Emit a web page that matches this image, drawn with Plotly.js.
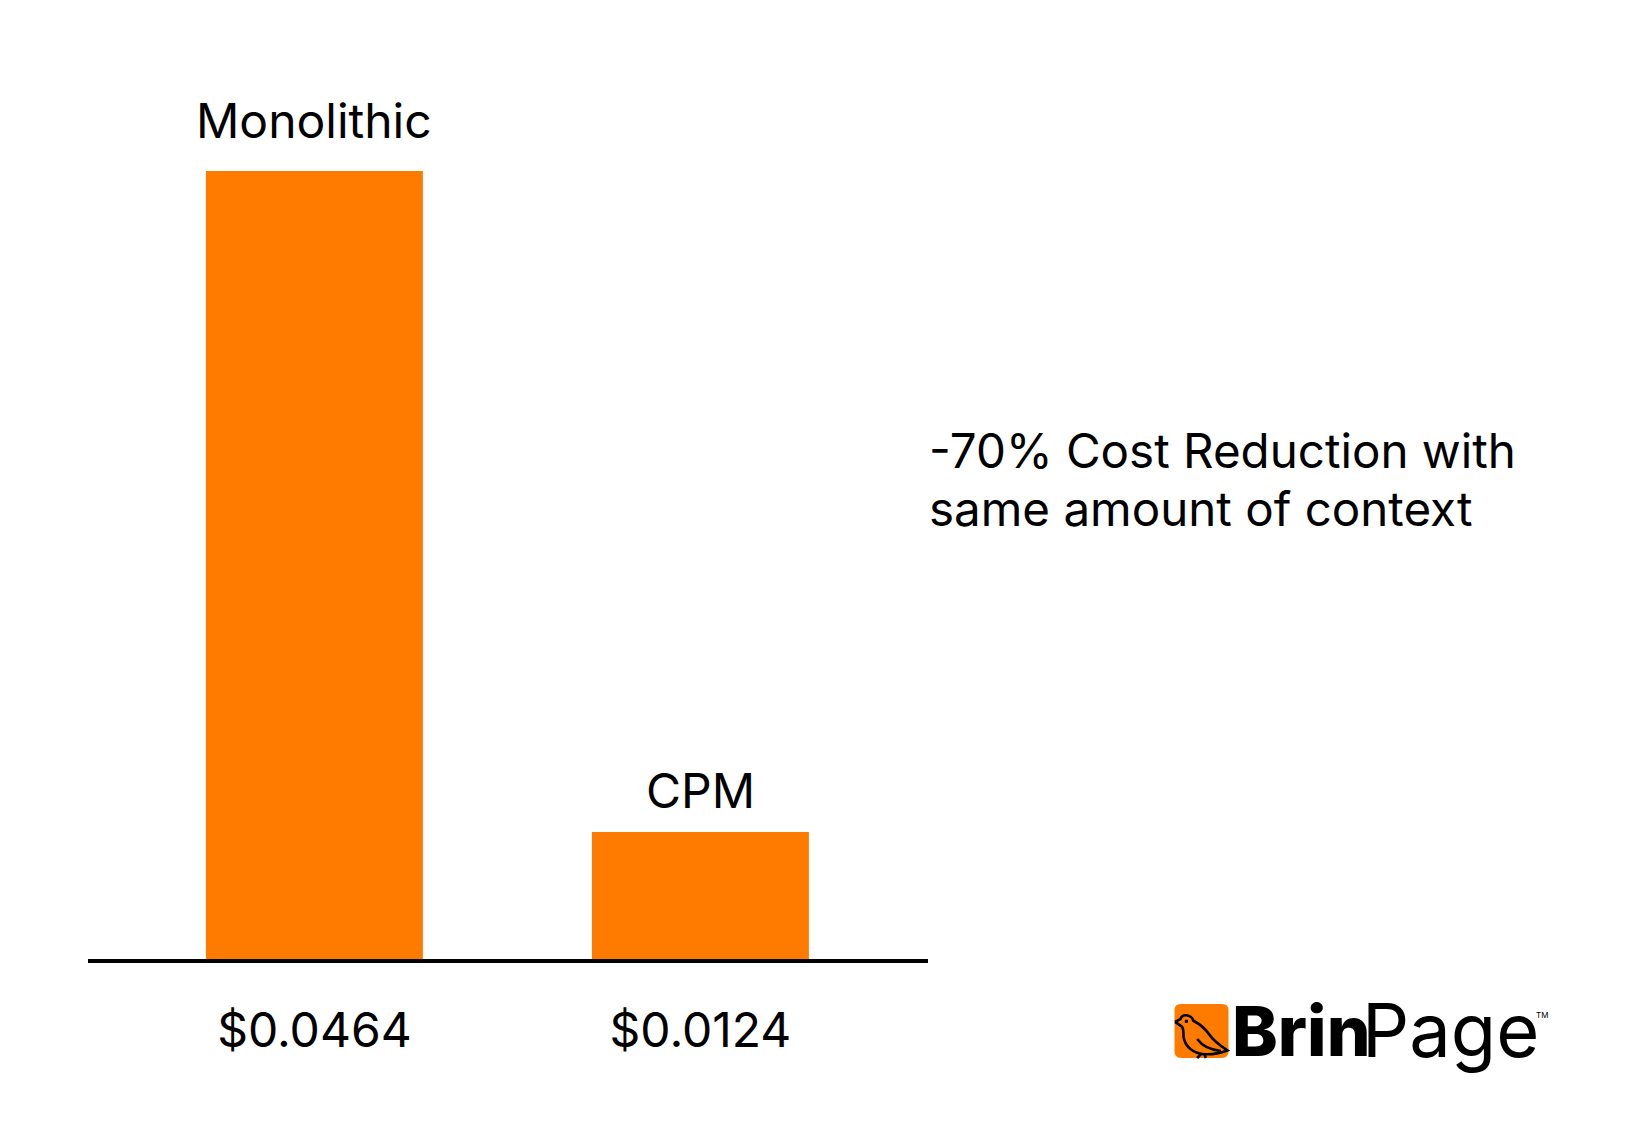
<!DOCTYPE html>
<html><head><meta charset="utf-8">
<script src="https://cdn.plot.ly/plotly-3.0.1.min.js"></script>
<style>html,body{margin:0;padding:0;background:#fff}</style></head>
<body><div id="chart" style="width:1650px;height:1144px"></div>
<script>
const categories = ["Monolithic", "CPM"];
const priceLabels = ["$0.0464", "$0.0124"];
// Bar heights as drawn in the picture (the drawn ratio, not the printed prices)
const barHeights = [0.0464, 0.00748];
const labelOffsets = [19, 10];
const noteLines = ["-70% Cost Reduction with", "same amount of context"];
const notePageY = [450, 508];
const orange = "#FF7B00";

const W = 1650, H = 1144, L = 88, R = 722, T = 0, B = 185;
const px = x => (x - L) / (W - L - R);
const py = y => (H - B - y) / (H - T - B);

// logo icon: local units 0-100 inside a square placed in page pixels
const LX = 1174.5, LY = 1004, LS = 54;
function pth(cmds) {
  return cmds.map(c => c[0] + " " + c.slice(1).map((v, i) => i % 2 === 0
    ? px(LX + v * LS / 100).toFixed(5) : py(LY + v * LS / 100).toFixed(5)).join(" ")).join(" ");
}
const squarePath = pth([["M",12,0],["L",88,0],["Q",100,0,100,12],["L",100,88],["Q",100,100,88,100],["L",12,100],["Q",0,100,0,88],["L",0,12],["Q",0,0,12,0]]) + " Z";
const birdPath = pth([["M",1,33],["L",11,28],["C",14,18,30,18,35,31],["C",48,38,56,44,64,56],["C",72,68,86,78,98,86],
  ["C",84,91,70,94,56,93],["C",36,92,20,80,17,62],["C",16,54,18,48,14,42],["L",1,33]]);
const wingPath = pth([["M",42,65],["C",50,76,62,85,86,87]]);
const leg1 = pth([["M",50,92],["L",42,100]]);
const leg2 = pth([["M",55,92],["L",58,100]]);
const eye = pth([["M",20,30],["L",24,30],["L",24,34],["L",20,34],["Z"]]);

const iconLine = {color:"#000", width:2.6};
const shapes = [
  {type:"path", xref:"paper", yref:"paper", path:squarePath, fillcolor:orange, line:{width:0}},
  {type:"path", xref:"paper", yref:"paper", path:birdPath, line:iconLine},
  {type:"path", xref:"paper", yref:"paper", path:wingPath, line:iconLine},
  {type:"path", xref:"paper", yref:"paper", path:leg1, line:iconLine},
  {type:"path", xref:"paper", yref:"paper", path:leg2, line:iconLine},
  {type:"path", xref:"paper", yref:"paper", path:eye, fillcolor:"#000", line:{color:"#000",width:1}}
];

const font = {family:"Inter, 'Noto Sans', sans-serif", color:"#000", size:48};
const annotations = categories.map((c,i) => ({
  x:c, y:barHeights[i], xref:"x", yref:"y", text:c, showarrow:false,
  yanchor:"bottom", yshift:labelOffsets[i], font:font
}));
noteLines.forEach((t,i) => annotations.push(
  {xref:"paper", yref:"paper", x:px(927), y:py(notePageY[i]), xanchor:"left", yanchor:"middle", align:"left",
   text:t, showarrow:false, font:{family:font.family, color:font.color, size:47.5}}));
annotations.push(
  {xref:"paper", yref:"paper", x:px(1230), y:py(1031), xanchor:"left", yanchor:"middle",
   text:"Brin", showarrow:false, font:{family:"Inter", size:69, color:"#000", weight:800}},
  {xref:"paper", yref:"paper", x:px(1360), y:py(1030), xanchor:"left", yanchor:"middle",
   text:"Page", showarrow:false, font:{family:"Inter", size:74, color:"#000"}},
  {xref:"paper", yref:"paper", x:px(1534), y:py(1015), xanchor:"left", yanchor:"middle",
   text:"TM", showarrow:false, font:{family:"Inter", size:8, color:"#000"}}
);

Plotly.newPlot("chart", [{
  type:"bar", x:categories, y:barHeights,
  marker:{color:orange, line:{width:0}}, hoverinfo:"skip"
}], {
  width:W, height:H, margin:{l:L, r:R, t:T, b:B, pad:0},
  paper_bgcolor:"#fff", plot_bgcolor:"#fff", showlegend:false, bargap:0.438,
  font:font,
  xaxis:{type:"category", range:[-0.5865,1.5895], tickmode:"array", tickvals:categories, ticktext:priceLabels,
    showgrid:false, zeroline:false, showline:true, linecolor:"#000", linewidth:4, ticks:"", ticklabelstandoff:26,
    tickfont:font, fixedrange:true},
  yaxis:{range:[0,0.05647], visible:false, fixedrange:true},
  shapes:shapes, annotations:annotations
}, {displayModeBar:false, staticPlot:true});
</script></body></html>
